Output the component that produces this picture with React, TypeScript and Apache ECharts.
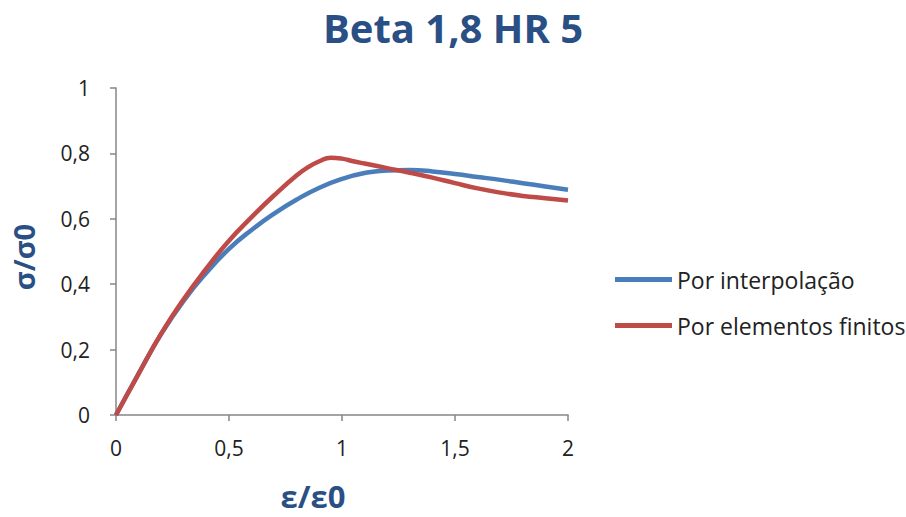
import React, { useEffect, useRef } from "react";
import * as echarts from "echarts";

const xInterp = [0, 0.1, 0.2, 0.3, 0.4, 0.5, 0.6, 0.7, 0.8, 0.9, 1.0, 1.1, 1.2, 1.3, 1.4, 1.5, 1.6, 1.7, 1.8, 1.9, 2.0];
const interpolacao = [0, 0.127, 0.248, 0.35, 0.435, 0.508, 0.566, 0.616, 0.659, 0.695, 0.722, 0.74, 0.748, 0.749, 0.745, 0.737, 0.728, 0.719, 0.709, 0.699, 0.689];
const xFinitos = [0, 0.1, 0.2, 0.3, 0.4, 0.5, 0.6, 0.7, 0.8, 0.85, 0.9, 0.95, 1.0, 1.05, 1.1, 1.2, 1.3, 1.4, 1.5, 1.6, 1.7, 1.8, 1.9, 2.0];
const finitos = [0, 0.126, 0.249, 0.355, 0.448, 0.533, 0.605, 0.672, 0.733, 0.758, 0.776, 0.787, 0.784, 0.776, 0.769, 0.755, 0.741, 0.726, 0.709, 0.693, 0.68, 0.67, 0.663, 0.656];

const seriesNames = ["Por interpolação", "Por elementos finitos"];
const titleText = "Beta 1,8 HR 5";
const xAxisName = "ε/ε0";
const yAxisName = "σ/σ0";

const fmt = (v: number) => String(Math.round(v * 10) / 10).replace(".", ",");

export default function App() {
  const ref = useRef<HTMLDivElement>(null);
  useEffect(() => {
    if (!ref.current) return;
    const chart = echarts.init(ref.current, undefined, { renderer: "svg" });
    const font = "'Open Sans', Lato, sans-serif";
    const axisColor = "#868686";
    const navy = "#2A4F85";
    chart.setOption({
      animation: false,
      backgroundColor: "#ffffff",
      textStyle: { fontFamily: font },
      title: {
        text: titleText,
        left: "center",
        top: 2,
        textStyle: { fontFamily: font, fontSize: 40, fontWeight: "bold", color: navy },
      },
      legend: {
        orient: "vertical",
        left: 610,
        top: 263,
        itemWidth: 57,
        itemHeight: 5,
        itemGap: 23,
        icon: "rect",
        data: seriesNames,
        textStyle: { fontFamily: font, fontSize: 23, color: "#222", padding: [0, 0, 0, 0] },
      },
      grid: { left: 116, right: 338, top: 88, bottom: 102, containLabel: false, outerBoundsMode: "none" },
      xAxis: {
        type: "value",
        min: 0,
        max: 2,
        interval: 0.5,
        name: xAxisName,
        nameLocation: "middle",
        nameGap: 64,
        nameTextStyle: { fontFamily: font, fontSize: 31, fontWeight: "bold", color: navy, padding: [0, 58, 0, 0], lineHeight: 34 },
        axisLine: { show: true, lineStyle: { color: axisColor, width: 1.5 } },
        axisTick: { show: true, length: 6, lineStyle: { color: axisColor, width: 1.5 } },
        axisLabel: { formatter: fmt, fontSize: 21, color: "#222", margin: 22 },
        splitLine: { show: false },
      },
      yAxis: {
        type: "value",
        min: 0,
        max: 1,
        interval: 0.2,
        name: yAxisName,
        nameLocation: "middle",
        nameGap: 78,
        nameRotate: 90,
        nameTextStyle: { fontFamily: font, fontSize: 29, fontWeight: "bold", color: navy, padding: [0, 11, 0, 0] },
        axisLine: { show: true, lineStyle: { color: axisColor, width: 1.5 } },
        axisTick: { show: true, length: 6, lineStyle: { color: axisColor, width: 1.5 } },
        axisLabel: { formatter: fmt, fontSize: 21, color: "#222", margin: 26 },
        splitLine: { show: false },
      },
      series: [
        {
          name: seriesNames[0],
          type: "line",
          data: xInterp.map((x, i) => [x, interpolacao[i]]),
          smooth: 0.5,
          showSymbol: false,
          symbol: "none",
          lineStyle: { width: 4.5, color: "#4A7EBB" },
          itemStyle: { color: "#4A7EBB" },
        },
        {
          name: seriesNames[1],
          type: "line",
          data: xFinitos.map((x, i) => [x, finitos[i]]),
          smooth: 0.5,
          showSymbol: false,
          symbol: "none",
          lineStyle: { width: 4.5, color: "#BE4B48" },
          itemStyle: { color: "#BE4B48" },
        },
      ],
    });
    return () => chart.dispose();
  }, []);
  return <div ref={ref} style={{ width: 906, height: 517, position: "absolute", left: 0, top: 0 }} />;
}
